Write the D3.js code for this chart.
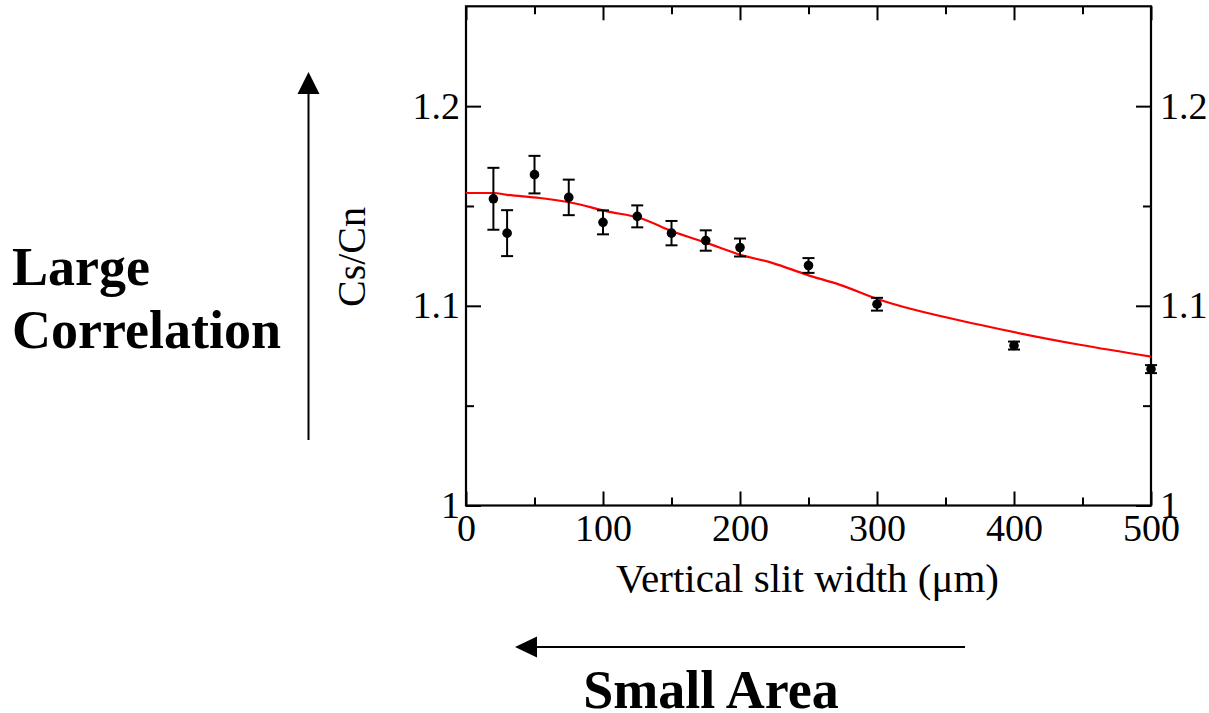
<!DOCTYPE html>
<html>
<head>
<meta charset="utf-8">
<script src="https://cdn.jsdelivr.net/npm/d3@7"></script>
<style>
  body { margin: 0; background: #fff; }
  svg { display: block; }
  text { font-family: "Liberation Serif", "Times New Roman", serif; fill: #000; }
</style>
</head>
<body>
<div id="chart"></div>
<script>
// measured points (slit width in um, Cs/Cn ratio, error)
var slitWidth = [20, 30, 50, 75, 100, 125, 150, 175, 200, 250, 300, 400, 500];
var ratio     = [1.1536, 1.1364, 1.1657, 1.1543, 1.1418, 1.1448, 1.1364, 1.1327, 1.1292, 1.1202, 1.1008, 1.0801, 1.0683];
var ratioErr  = [0.0155, 0.0115, 0.0094, 0.0089, 0.0060, 0.0055, 0.0061, 0.0051, 0.0045, 0.0037, 0.0032, 0.0020, 0.0020];

// fit curve
var fitX = [0, 20, 30, 54, 78, 103, 127, 151, 176, 200, 224, 249, 273, 302, 375, 448, 500];
var fitY = [1.1565, 1.1565, 1.1556, 1.1540, 1.1515, 1.1473, 1.1440, 1.1372, 1.1314, 1.1256, 1.1214, 1.1155, 1.1105, 1.1030, 1.0905, 1.0805, 1.0746];

var xTicks = [0, 100, 200, 300, 400, 500];
var xMinor = [50, 150, 250, 350, 450];
var yTicks = [1, 1.1, 1.2];
var yMinor = [1.05, 1.15];

var W = 1209, H = 713;
var plotL = 466, plotR = 1151, plotT = 6.3, plotB = 505.5;

var svg = d3.select("#chart").append("svg")
    .attr("width", W)
    .attr("height", H);

var x = d3.scaleLinear().domain([0, 500]).range([plotL, plotR]);
var y = d3.scaleLinear().domain([1, 1.25]).range([plotB, plotT]);

var tickFmt = function(d) { return d3.format("")(d); };

// major ticks with labels
svg.append("g").attr("transform", "translate(0," + plotB + ")")
    .call(d3.axisBottom(x).tickValues(xTicks).tickSize(-14).tickPadding(9).tickFormat(tickFmt));
svg.append("g").attr("transform", "translate(0," + plotT + ")")
    .call(d3.axisTop(x).tickValues(xTicks).tickSize(-14).tickFormat(""));
svg.append("g").attr("transform", "translate(" + plotL + ",0)")
    .call(d3.axisLeft(y).tickValues(yTicks).tickSize(-15).tickPadding(6).tickFormat(tickFmt));
svg.append("g").attr("transform", "translate(" + plotR + ",0)")
    .call(d3.axisRight(y).tickValues(yTicks).tickSize(-15).tickPadding(9).tickFormat(tickFmt));

// minor ticks
svg.append("g").attr("transform", "translate(0," + plotB + ")")
    .call(d3.axisBottom(x).tickValues(xMinor).tickSize(-8).tickFormat(""));
svg.append("g").attr("transform", "translate(0," + plotT + ")")
    .call(d3.axisTop(x).tickValues(xMinor).tickSize(-8).tickFormat(""));
svg.append("g").attr("transform", "translate(" + plotL + ",0)")
    .call(d3.axisLeft(y).tickValues(yMinor).tickSize(-8).tickFormat(""));
svg.append("g").attr("transform", "translate(" + plotR + ",0)")
    .call(d3.axisRight(y).tickValues(yMinor).tickSize(-8).tickFormat(""));

svg.selectAll(".domain").remove();
svg.selectAll(".tick line").attr("stroke", "#000").attr("stroke-width", 2);
svg.selectAll(".tick text").style("font-size", "38px").attr("fill", "#000");

// frame
svg.append("rect")
    .attr("x", plotL).attr("y", plotT)
    .attr("width", plotR - plotL).attr("height", plotB - plotT)
    .attr("fill", "none").attr("stroke", "#000").attr("stroke-width", 2.2);

// fit line
var fitData = fitX.map(function(d, i) { return {x: d, y: fitY[i]}; });
var line = d3.line()
    .x(function(d) { return x(d.x); })
    .y(function(d) { return y(d.y); })
    .curve(d3.curveMonotoneX);

svg.append("path")
    .attr("d", line(fitData))
    .attr("fill", "none")
    .attr("stroke", "#ff0000")
    .attr("stroke-width", 2.2);

// error bars and points
var pts = slitWidth.map(function(d, i) { return {x: d, y: ratio[i], e: ratioErr[i]}; });
var cap = 6;
var eb = svg.append("g").attr("stroke", "#000").attr("stroke-width", 2);
pts.forEach(function(p) {
  var px = x(p.x), y1 = y(p.y + p.e), y2 = y(p.y - p.e);
  eb.append("line").attr("x1", px).attr("x2", px).attr("y1", y1).attr("y2", y2);
  eb.append("line").attr("x1", px - cap).attr("x2", px + cap).attr("y1", y1).attr("y2", y1);
  eb.append("line").attr("x1", px - cap).attr("x2", px + cap).attr("y1", y2).attr("y2", y2);
});
svg.selectAll("circle.pt").data(pts).enter().append("circle")
    .attr("class", "pt")
    .attr("cx", function(d) { return x(d.x); })
    .attr("cy", function(d) { return y(d.y); })
    .attr("r", 4.8)
    .attr("fill", "#000");

// axis titles
svg.append("text")
    .attr("x", (plotL + plotR) / 2 - 1).attr("y", 592)
    .attr("text-anchor", "middle")
    .style("font-size", "41px")
    .text("Vertical slit width (\u03bcm)");

svg.append("text")
    .attr("transform", "translate(365,257) rotate(-90)")
    .attr("text-anchor", "middle")
    .style("font-size", "40px")
    .text("Cs/Cn");

// annotation arrows
svg.append("line")
    .attr("x1", 308.5).attr("x2", 308.5).attr("y1", 440).attr("y2", 90)
    .attr("stroke", "#000").attr("stroke-width", 2);
svg.append("path")
    .attr("d", "M308.5,72 L297.5,94 L319.5,94 Z")
    .attr("fill", "#000");

svg.append("line")
    .attr("x1", 965).attr("x2", 532).attr("y1", 647).attr("y2", 647)
    .attr("stroke", "#000").attr("stroke-width", 2);
svg.append("path")
    .attr("d", "M515,647 L537,636.5 L537,657.5 Z")
    .attr("fill", "#000");

svg.append("text")
    .attr("x", 12).attr("y", 285)
    .style("font-size", "54px").style("font-weight", "bold")
    .text("Large");
svg.append("text")
    .attr("x", 12).attr("y", 348)
    .style("font-size", "54px").style("font-weight", "bold")
    .text("Correlation");

svg.append("text")
    .attr("x", 711).attr("y", 708)
    .attr("text-anchor", "middle")
    .style("font-size", "54px").style("font-weight", "bold")
    .text("Small Area");
</script>
</body>
</html>
